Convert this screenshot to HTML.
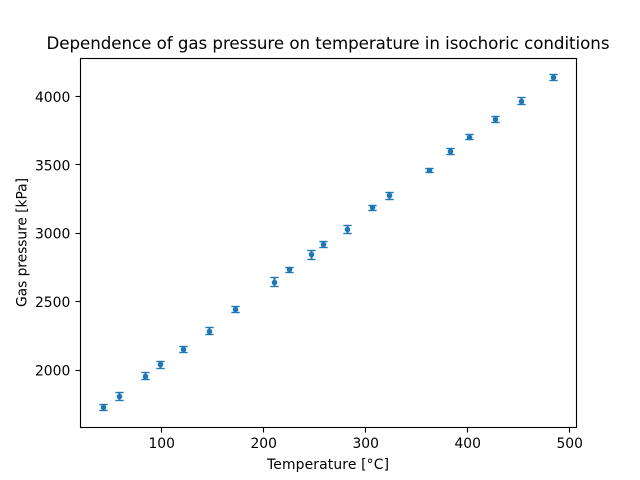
<!DOCTYPE html>
<html>
<head>
<meta charset="utf-8">
<title>Dependence of gas pressure on temperature</title>
<style>
html,body{margin:0;padding:0;background:#fff;width:640px;height:480px;overflow:hidden}
svg{display:block}
text{font-family:"DejaVu Sans",sans-serif;fill:#000}
</style>
</head>
<body>
<svg id="chart" xmlns="http://www.w3.org/2000/svg" width="640" height="480" viewBox="0 0 640 480">
  <rect x="0" y="0" width="640" height="480" fill="#fff"/>
  <g id="marks"></g>
  <g id="xticks"></g>
  <g id="yticks"></g>
  <rect x="80.5" y="58.5" width="496" height="369" fill="none" stroke="#000" stroke-width="1.11"/>
  <text x="328" y="49" font-size="16.67" text-anchor="middle" textLength="563" lengthAdjust="spacing">Dependence of gas pressure on temperature in isochoric conditions</text>
  <text x="328" y="469" font-size="13.89" text-anchor="middle" textLength="122" lengthAdjust="spacing">Temperature [°C]</text>
  <text x="0" y="0" font-size="13.89" text-anchor="middle" textLength="129" lengthAdjust="spacing" transform="translate(26.3,242.5) rotate(-90)">Gas pressure [kPa]</text>
</svg>
<script>
const temperature = [42.7,58.4,83.9,98.6,121.2,146.7,172.2,210.4,225.1,246.7,258.4,282,306.5,323.1,362.4,382.9,401.3,427,452.5,483.9];
const pressure = [1727,1806,1954,2037,2150,2285,2444,2643,2733,2841,2916,3028,3186,3272,3460,3599,3703,3833,3966,4140];
const pressureError = [22,30,26,24,24,24,21,30,18,31,24,28,18,26,15,21,20,21,28,21];
const xTickLabels = [100,200,300,400,500];
const yTickLabels = [2000,2500,3000,3500,4000];

const NS = 'http://www.w3.org/2000/svg';
const COLOR = '#1f77b4';
function xScale(v){ return 161.7 + (v - 100) * 1.02; }
function yScale(v){ return 370 - (v - 2000) * 0.1368; }
function snap(p){ return Math.floor(p) + 0.5; }
function make(tag, attrs, parent){
  const el = document.createElementNS(NS, tag);
  for (const k in attrs) el.setAttribute(k, attrs[k]);
  parent.appendChild(el);
  return el;
}
const marks = document.getElementById('marks');
temperature.forEach(function(t, i){
  const cx = snap(xScale(t));
  const cy = snap(yScale(pressure[i]));
  const top = snap(yScale(pressure[i] + pressureError[i]));
  const bottom = snap(yScale(pressure[i] - pressureError[i]));
  const g = make('g', {}, marks);
  
  
  const bar = make('line', {x1:cx, x2:cx, y1:top, y2:bottom, stroke:COLOR, 'stroke-width':2}, g);
  
  
  const capTop = make('line', {x1:cx-4.17, x2:cx+4.17, y1:top, y2:top, stroke:COLOR, 'stroke-width':1.39}, g);
  
  
  const capBottom = make('line', {x1:cx-4.17, x2:cx+4.17, y1:bottom, y2:bottom, stroke:COLOR, 'stroke-width':1.39}, g);
  
  
  const dot = make('circle', {cx:cx, cy:cy, r:2.8, fill:COLOR}, g);
  
  
});
const xticks = document.getElementById('xticks');
xTickLabels.forEach(function(v){
  const x = snap(xScale(v));
  const tick = make('line', {x1:x, x2:x, y1:427.5, y2:432.5, stroke:'#000', 'stroke-width':1.11}, xticks);
  
  
  const label = make('text', {x:xScale(v), y:448, 'font-size':13.89, 'text-anchor':'middle'}, xticks);
  
  
  label.textContent = v;
});
const yticks = document.getElementById('yticks');
yTickLabels.forEach(function(v){
  const y = snap(yScale(v));
  const tick = make('line', {x1:75.5, x2:80.5, y1:y, y2:y, stroke:'#000', 'stroke-width':1.11}, yticks);
  
  
  const label = make('text', {x:70.3, y:yScale(v)+5.5, 'font-size':13.89, 'text-anchor':'end'}, yticks);
  
  
  label.textContent = v;
});
</script>
</body>
</html>
